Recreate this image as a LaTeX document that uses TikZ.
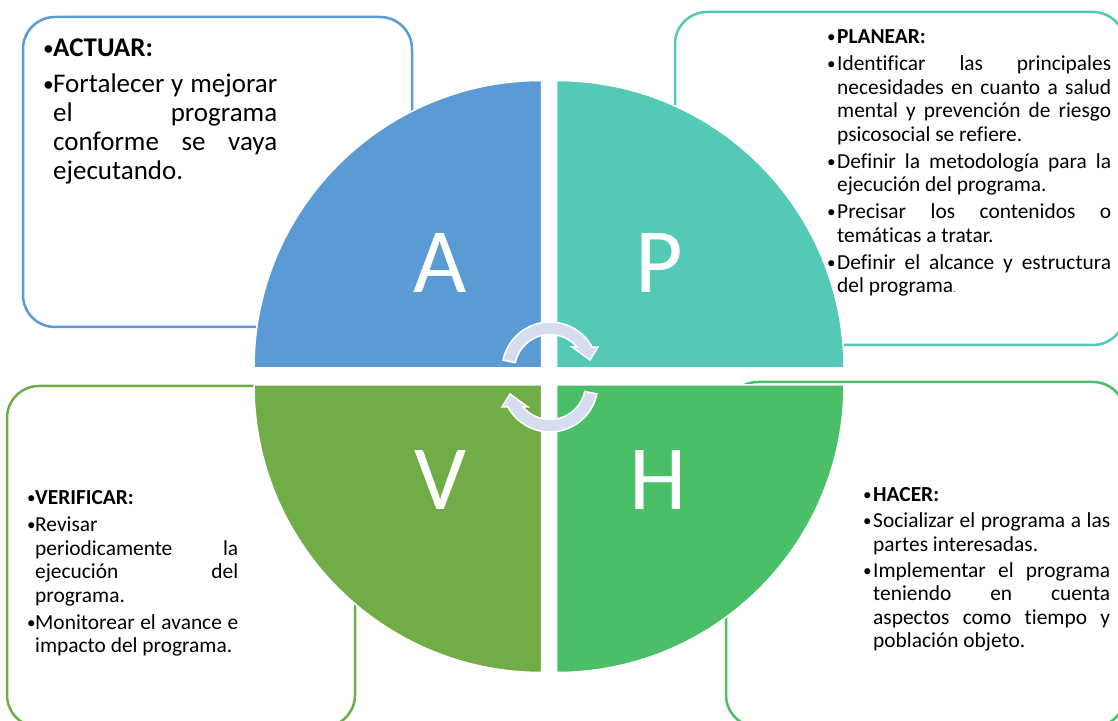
\documentclass[tikz,border=0pt]{standalone}
\usepackage{graphicx}
\usepackage{fontspec}
\setmainfont{Carlito}[Ligatures=NoCommon]
\usetikzlibrary{positioning}

\definecolor{cact}{RGB}{91,155,213}
\definecolor{cplan}{RGB}{83,201,182}
\definecolor{cver}{RGB}{112,173,71}
\definecolor{chac}{RGB}{74,191,103}
\definecolor{carrow}{RGB}{214,222,238}

\newlength{\hng}
\newcommand{\pgap}{4pt}
\newcommand{\bulmark}{\makebox[\hng][l]{\raisebox{0.05em}{\scalebox{0.8}{\textbullet}}}}
\newcommand{\phead}[1]{\noindent\hangindent=\hng\hangafter=1\bulmark\textbf{#1}\par}
\newcommand{\pitem}[1]{\vspace{\pgap}\noindent\hangindent=\hng\hangafter=1\bulmark#1\par}

\begin{document}
\begin{tikzpicture}[x=1pt,y=1pt,
    box/.style={line width=2.5pt, rounded corners=32pt},
    quad/.style={draw=white, line width=1.5pt},
    letter/.style={text=white, font=\fontsize{92}{92}\selectfont, anchor=base, inner sep=0pt},
    cyc/.style={fill=carrow, draw=white, line width=1.5pt},
    txt/.style 2 args={inner sep=0pt, anchor=base west, align=justify,
      execute at begin node={\setlength{\hng}{#1}\renewcommand{\pgap}{#2}\parskip=0pt
        \tolerance=10000\hbadness=10000\hyphenpenalty=10000}}]
    \useasboundingbox (0,0) rectangle (1118,720);
    \clip (0,0) rectangle (1118,720);
    % boxes
    \draw[box, cact] (23,393) rectangle (412,703);
    \draw[box, cplan] (675,375) rectangle (1125,708);
    \draw[box, cver] (7,-7) rectangle (355,334);
    \draw[box, chac] (726,-7) rectangle (1125,338);
    % quarters
    \filldraw[quad, fill=cact] (541.5,352) -- ++(180:287.5) arc[start angle=180, end angle=90, radius=287.5] -- cycle;
    \filldraw[quad, fill=cplan] (556.5,352) -- ++(90:287.5) arc[start angle=90, end angle=0, radius=287.5] -- cycle;
    \filldraw[quad, fill=cver] (541.5,335) -- ++(270:287.5) arc[start angle=270, end angle=180, radius=287.5] -- cycle;
    \filldraw[quad, fill=chac] (556.5,335) -- ++(0:287.5) arc[start angle=0, end angle=-90, radius=287.5] -- cycle;
    \node[letter] (la) at (440.5,427) {A};
    \node[letter] (lp) at (659,427) {P};
    \node[letter] (lv) at (441,210) {V};
    \node[letter] (lh) at (658.5,210) {H};
    % cycle arrows
    \begin{scope}[shift={(550,350)}]
      \filldraw[cyc] (168:48) arc[start angle=168, end angle=28.6, radius=48] -- (48,23) -- (40,10) -- (22,23) -- (27,23) arc[start angle=40.4, end angle=168, radius=35.5] -- cycle;
    \end{scope}
    \begin{scope}[shift={(550,336)}, rotate=180]
      \filldraw[cyc] (168:48) arc[start angle=168, end angle=28.6, radius=48] -- (48,23) -- (40,10) -- (22,23) -- (27,23) arc[start angle=40.4, end angle=168, radius=35.5] -- cycle;
    \end{scope}
    % texts
    \node[txt={10pt}{7pt}, font=\fontsize{27}{29}\selectfont, text width=234pt] (tact) at (43,663)
      {\phead{ACTUAR:}\pitem{Fortalecer y mejorar\linebreak el programa\linebreak conforme se vaya\linebreak ejecutando.}};
    \node[txt={10pt}{3.5pt}, font=\fontsize{21.4}{23.5}\selectfont, text width=284pt] (tplan) at (827,676)
      {\phead{PLANEAR:}\pitem{Identificar las principales\linebreak necesidades en cuanto a salud\linebreak mental y prevención de riesgo\linebreak psicosocial se refiere.}%
       \pitem{Definir la metodología para la\linebreak ejecución del programa.}%
       \pitem{Precisar los contenidos o\linebreak temáticas a tratar.}%
       \pitem{Definir el alcance y estructura\linebreak del programa{\fontsize{9}{9}\selectfont.}}};
    \node[txt={8pt}{3.5pt}, font=\fontsize{21.4}{23.5}\selectfont, text width=211pt] (tver) at (27,215)
      {\phead{VERIFICAR:}\pitem{Revisar\linebreak periodicamente la\linebreak ejecución del\linebreak programa.}%
       \pitem{Monitorear el avance e\linebreak impacto del programa.}};
    \node[txt={10pt}{2.5pt}, font=\fontsize{21.4}{23.5}\selectfont, text width=247pt] (thac) at (863,218)
      {\phead{HACER:}\pitem{Socializar el programa a las\linebreak partes interesadas.}%
       \pitem{Implementar el programa\linebreak teniendo en cuenta\linebreak aspectos como tiempo y\linebreak población objeto.}};
\end{tikzpicture}
\end{document}
